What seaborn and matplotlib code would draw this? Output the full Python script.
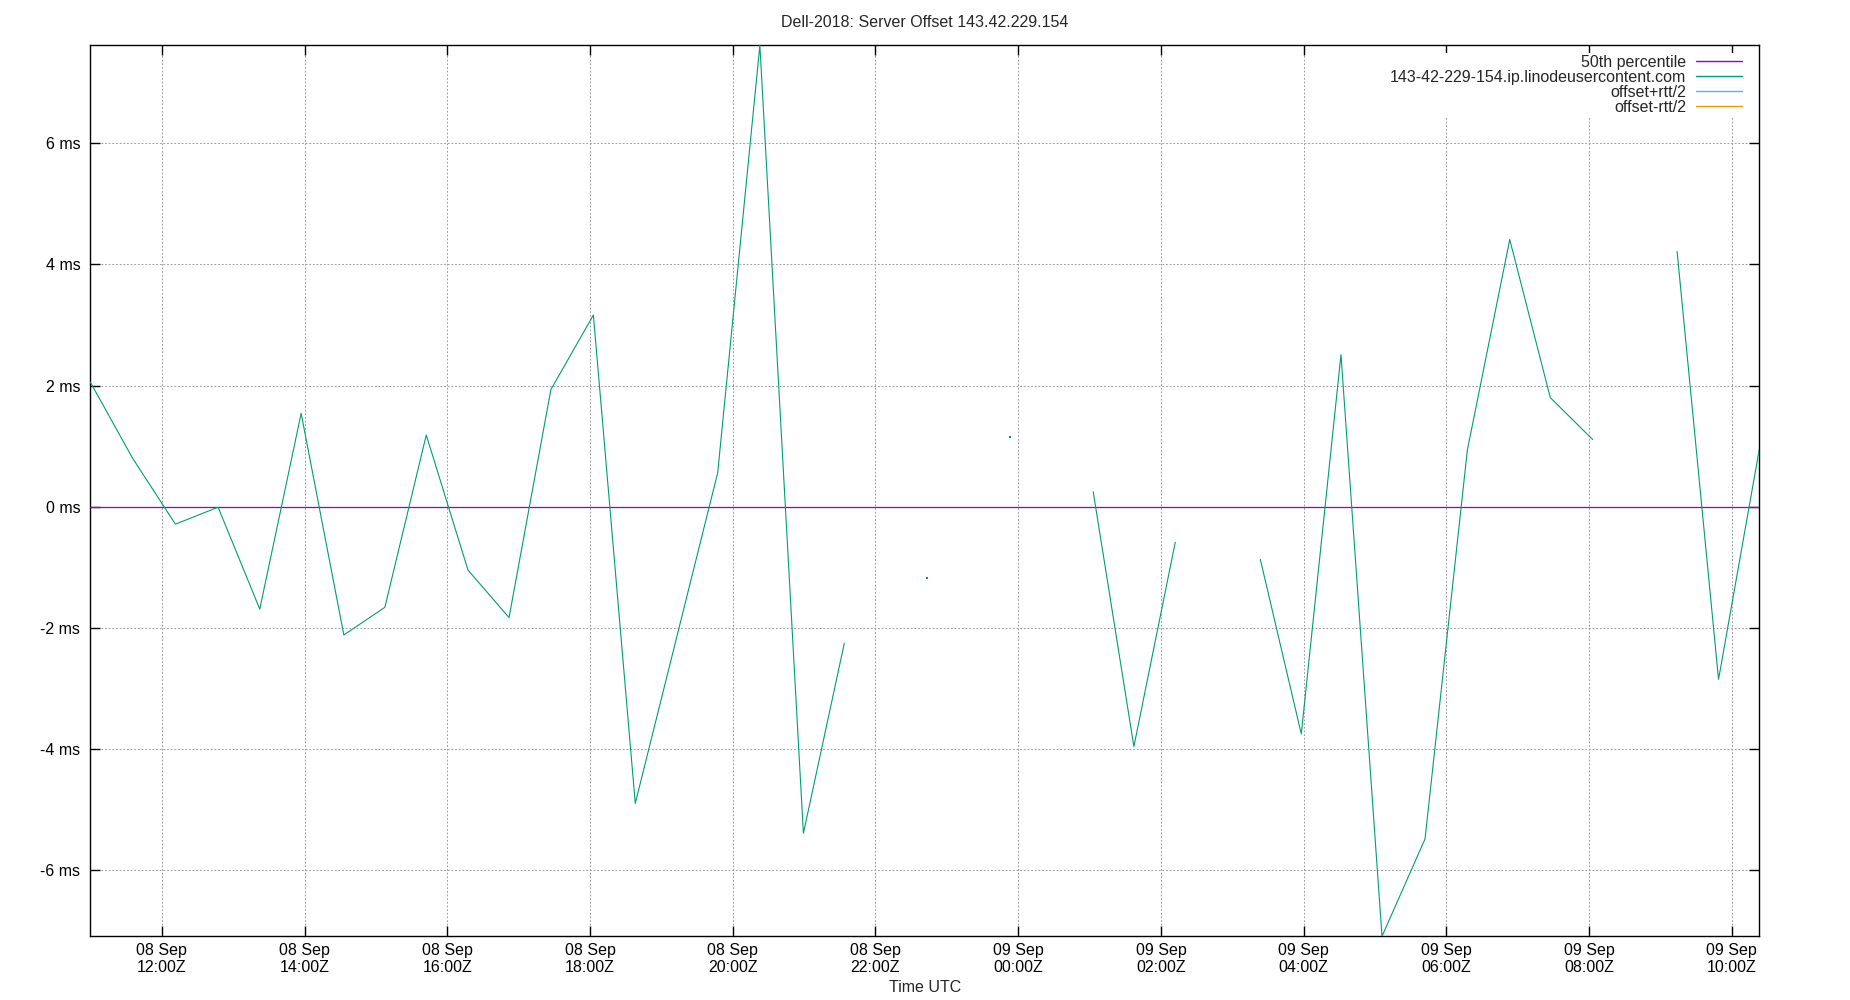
import numpy as np
import pandas as pd
import matplotlib
matplotlib.use("Agg")
import matplotlib.pyplot as plt
import matplotlib.dates as mdates
from matplotlib.ticker import FixedLocator, FuncFormatter
from matplotlib.lines import Line2D
import seaborn as sns

# ---------------- data ----------------
title = "Dell-2018: Server Offset 143.42.229.154"
x_label = "Time UTC"
host_label = "143-42-229-154.ip.linodeusercontent.com"
series_labels = ["50th percentile", host_label, "offset+rtt/2", "offset-rtt/2"]
series_colors = ["#9400d3", "#009e73", "#56b4e9", "#e69f00"]

sample_times = [
    "2023-09-08 10:59:50", "2023-09-08 11:35:24", "2023-09-08 12:11:24",
    "2023-09-08 12:47:17", "2023-09-08 13:22:19", "2023-09-08 13:57:07",
    "2023-09-08 14:33:00", "2023-09-08 15:07:30", "2023-09-08 15:42:18",
    "2023-09-08 16:17:24", "2023-09-08 16:51:54", "2023-09-08 17:27:04",
    "2023-09-08 18:02:49", "2023-09-08 18:38:02", "2023-09-08 19:47:20",
    "2023-09-08 20:22:48", "2023-09-08 20:59:24", "2023-09-08 21:33:47",
    "2023-09-08 22:08:40", "2023-09-08 22:43:30", "2023-09-08 23:18:20",
    "2023-09-08 23:53:17", "2023-09-09 00:28:10", "2023-09-09 01:03:04",
    "2023-09-09 01:37:16", "2023-09-09 02:12:04", "2023-09-09 02:47:50",
    "2023-09-09 03:23:35", "2023-09-09 03:58:01", "2023-09-09 04:31:23",
    "2023-09-09 05:05:53", "2023-09-09 05:42:04", "2023-09-09 06:17:38",
    "2023-09-09 06:53:17", "2023-09-09 07:27:22", "2023-09-09 08:03:04",
    "2023-09-09 08:38:30", "2023-09-09 09:13:59", "2023-09-09 09:48:50",
    "2023-09-09 10:23:06",
]
offset_ms = [
    2.056, 0.800, -0.288,
    -0.008, -1.690, 1.540,
    -2.117, -1.660, 1.183,
    -1.046, -1.830, 1.932,
    3.163, -4.896, 0.559,
    7.615, -5.390, -2.254,
    np.nan, -1.180, np.nan,
    1.157, np.nan, 0.246,
    -3.958, -0.587, np.nan,
    -0.871, -3.750, 2.510,
    -7.090, -5.483, 0.935,
    4.410, 1.800, 1.108,
    np.nan, 4.214, -2.850,
    0.947,
]
percentile_50 = -0.01
y_ticks = [-6, -4, -2, 0, 2, 4, 6]

# ---------------- frame ----------------
df = pd.DataFrame({"time": pd.to_datetime(sample_times), "offset": offset_ms})
df["segment"] = df["offset"].isna().cumsum()
valid = df.dropna(subset=["offset"]).copy()
seg_sizes = valid.groupby("segment")["offset"].transform("size")
lonely = valid[seg_sizes == 1]

pct_df = pd.DataFrame({"time": [df["time"].iloc[0], df["time"].iloc[-1]],
                       "offset": [percentile_50, percentile_50]})

# ---------------- style ----------------
sns.set_style("ticks")
plt.rcParams["font.family"] = ["Liberation Sans", "DejaVu Sans"]
plt.rcParams["axes.linewidth"] = 1.0

fig = plt.figure(figsize=(18.5, 10), dpi=100, facecolor="white")
ax = fig.add_axes([0.04881, 0.0637, 0.95097 - 0.04881, 0.9547 - 0.0637])
ax.set_facecolor("white")

sns.lineplot(data=pct_df, x="time", y="offset", color=series_colors[0],
             lw=0.9, ax=ax, legend=False, zorder=3)
sns.lineplot(data=valid, x="time", y="offset", units="segment", estimator=None,
             color=series_colors[1], lw=0.8, ax=ax, legend=False, zorder=4)
sns.scatterplot(data=lonely, x="time", y="offset", color=series_colors[1],
                marker="s", s=1.5, linewidth=0, ax=ax, legend=False, zorder=4)

ax.set_xlim(df["time"].iloc[0], df["time"].iloc[-1])
ax.set_ylim(-7.09, 7.615)

ax.xaxis.set_major_locator(mdates.HourLocator(byhour=range(0, 24, 2)))
ax.xaxis.set_major_formatter(mdates.DateFormatter("%d %b\n%H:%MZ"))
ax.yaxis.set_major_locator(FixedLocator(y_ticks))
ax.yaxis.set_major_formatter(FuncFormatter(lambda v, p: f"{v:g} ms".replace("\u2212", "-")))

ax.tick_params(axis="both", which="major", direction="in", length=7.2, width=1.0,
               top=True, right=True, colors="black", labelsize=11.5)
ax.tick_params(axis="x", pad=4.8)
ax.tick_params(axis="y", pad=7.2)

ax.grid(True, color="#a0a0a0", lw=0.75, ls=(0, (1.75, 1.75)))
for s in ax.spines.values():
    s.set_color("black")
    s.set_linewidth(1.0)

ax.set_xlabel(x_label, fontsize=11.5, labelpad=3)
ax.set_ylabel("")
ax.set_title(title, fontsize=11.5, pad=13)

handles = [Line2D([], [], color=c, lw=1.0) for c in series_colors]
ax.legend(handles, series_labels, loc="upper right", bbox_to_anchor=(0.9904, 0.9909),
          borderaxespad=0, borderpad=0.1, labelspacing=0.0, handlelength=2.87,
          handletextpad=0.6, markerfirst=False, frameon=True, fancybox=False,
          framealpha=1, edgecolor="none", facecolor="white", fontsize=11.5)

fig.savefig("out.png", dpi=100, facecolor="white")
